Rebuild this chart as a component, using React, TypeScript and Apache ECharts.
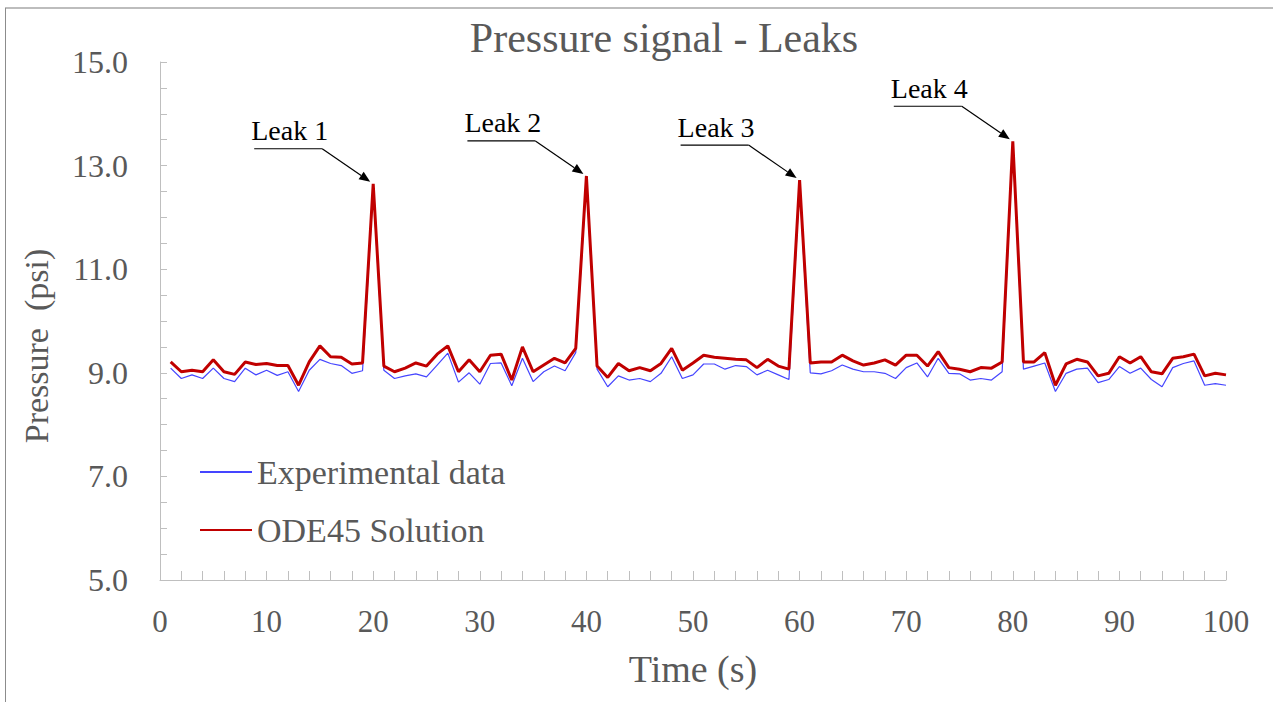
import React, { useEffect, useRef } from "react";
import * as echarts from "echarts";

const experimental: number[] = [
  9.09, 8.89, 8.96, 8.89, 9.09, 8.89, 8.83, 9.09, 8.96, 9.05, 8.95, 9.02, 8.64, 9.05, 9.26, 9.18, 9.14, 8.99, 9.04, 12.55,
  9.05, 8.89, 8.94, 8.98, 8.92, 9.15, 9.38, 8.82, 9.0, 8.78, 9.18, 9.19, 8.75, 9.28, 8.83, 9.02, 9.13, 9.04, 9.39, 12.7,
  9.07, 8.73, 8.94, 8.86, 8.89, 8.83, 8.99, 9.31, 8.89, 8.96, 9.17, 9.17, 9.07, 9.14, 9.12, 8.96, 9.05, 8.96, 8.87, 12.62,
  9.0, 8.98, 9.04, 9.15, 9.07, 9.02, 9.02, 8.99, 8.89, 9.1, 9.19, 8.92, 9.28, 8.99, 8.98, 8.86, 8.89, 8.86, 9.02, 13.4,
  9.07, 9.13, 9.19, 8.64, 8.99, 9.07, 9.09, 8.81, 8.87, 9.12, 8.99, 9.09, 8.87, 8.73, 9.1, 9.18, 9.23, 8.76, 8.79, 8.76,
];

const ode45: number[] = [
  9.21, 9.02, 9.05, 9.02, 9.25, 9.02, 8.97, 9.21, 9.16, 9.18, 9.14, 9.14, 8.76, 9.21, 9.52, 9.31, 9.3, 9.17, 9.19, 12.65,
  9.13, 9.02, 9.09, 9.19, 9.13, 9.36, 9.52, 9.02, 9.25, 9.02, 9.34, 9.36, 8.86, 9.5, 9.02, 9.15, 9.28, 9.19, 9.47, 12.8,
  9.13, 8.91, 9.18, 9.04, 9.1, 9.04, 9.18, 9.47, 9.05, 9.19, 9.34, 9.3, 9.28, 9.26, 9.25, 9.1, 9.26, 9.13, 9.07, 12.72,
  9.19, 9.21, 9.21, 9.34, 9.23, 9.15, 9.19, 9.25, 9.15, 9.34, 9.34, 9.13, 9.41, 9.1, 9.07, 9.02, 9.1, 9.09, 9.21, 13.47,
  9.21, 9.21, 9.39, 8.76, 9.17, 9.26, 9.21, 8.94, 8.99, 9.31, 9.19, 9.31, 9.02, 8.98, 9.28, 9.31, 9.36, 8.94, 8.99, 8.96,
];

// time stamps (s): one sample per second starting at 1 s
const times: number[] = experimental.map((_, i) => i + 1);

const leakNames: string[] = ["Leak 1", "Leak 2", "Leak 3", "Leak 4"];
const leakTimes: number[] = [20, 40, 60, 80];

const FONT = '"Liberation Serif", "Times New Roman", serif';
const GRAY = "#595959";
const AXIS = "#bfbfbf";

export default function App() {
  const ref = useRef<HTMLDivElement>(null);

  useEffect(() => {
    document.body.style.margin = "0";
    if (!ref.current) return;
    const chart = echarts.init(ref.current, undefined, { renderer: "svg" });

    const option: any = {
      animation: false,
      backgroundColor: "#ffffff",
      title: {
        text: "Pressure signal - Leaks",
        left: 659,
        top: 12,
        textAlign: "center",
        textStyle: { fontFamily: FONT, fontSize: 42, fontWeight: "normal", color: GRAY },
      },
      legend: {
        orient: "vertical",
        left: 194,
        top: 450,
        itemWidth: 52,
        itemHeight: 14,
        itemGap: 24,
        itemStyle: { opacity: 0 },
        textStyle: { fontFamily: FONT, fontSize: 34, color: GRAY, lineHeight: 34 },
        data: ["Experimental data", "ODE45 Solution"],
      },
      grid: { left: 160, right: 47, top: 62, bottom: 122, containLabel: false },
      xAxis: {
        type: "value",
        min: 0,
        max: 100,
        interval: 10,
        name: "Time (s)",
        nameLocation: "middle",
        nameGap: 70,
        nameTextStyle: { fontFamily: FONT, fontSize: 38, color: GRAY },
        axisLine: { show: true, lineStyle: { color: AXIS, width: 1 } },
        axisTick: { show: true, inside: true, length: 9, lineStyle: { color: AXIS } },
        minorTick: { show: true, splitNumber: 5, length: 9, lineStyle: { color: AXIS } },
        splitLine: { show: false },
        axisLabel: { fontFamily: FONT, fontSize: 31, color: GRAY, margin: 26 },
      },
      yAxis: {
        type: "value",
        min: 5,
        max: 15,
        interval: 2,
        axisLine: { show: true, lineStyle: { color: AXIS, width: 1 } },
        axisTick: { show: true, inside: true, length: 7, lineStyle: { color: AXIS } },
        minorTick: { show: true, splitNumber: 4, length: 7, lineStyle: { color: AXIS } },
        splitLine: { show: false },
        axisLabel: {
          fontFamily: FONT,
          fontSize: 32,
          color: GRAY,
          margin: 32,
          formatter: (v: number) => v.toFixed(1),
        },
      },
      series: [
        {
          name: "Experimental data",
          type: "line",
          symbol: "none",
          data: times.map((t, i) => [t, experimental[i]]),
          lineStyle: { color: "#4545ff", width: 1.2 },
          itemStyle: { color: "#4545ff" },
          z: 2,
        },
        {
          name: "ODE45 Solution",
          type: "line",
          symbol: "none",
          data: times.map((t, i) => [t, ode45[i]]),
          lineStyle: { color: "#c00000", width: 3 },
          itemStyle: { color: "#c00000" },
          z: 3,
        },
      ],
    };
    chart.setOption(option);

    const graphics: any[] = [
      { type: "line", shape: { x1: 5, y1: 8, x2: 1273, y2: 8 }, style: { stroke: "#bdbdbd", lineWidth: 2 }, silent: true },
      { type: "line", shape: { x1: 5.5, y1: 8, x2: 5.5, y2: 702 }, style: { stroke: "#8c8c8c", lineWidth: 1 }, silent: true },
      {
        type: "text",
        x: 36,
        y: 346,
        rotation: Math.PI / 2,
        style: {
          text: "Pressure  (psi)",
          fontFamily: FONT,
          fontSize: 34,
          fill: GRAY,
          textAlign: "center",
          textVerticalAlign: "middle",
          verticalAlign: "middle",
        },
        silent: true,
      },
    ];

    leakTimes.forEach((t, k) => {
      const idx = times.indexOf(t);
      const p = chart.convertToPixel({ gridIndex: 0 }, [t, ode45[idx]]) as number[];
      const tipX = p[0] - 3;
      const tipY = p[1] - 2;
      const ux1 = tipX - 116;
      const ux2 = tipX - 48;
      const uy = tipY - 33;
      const dx = tipX - ux2;
      const dy = tipY - uy;
      const len = Math.sqrt(dx * dx + dy * dy);
      const ux = dx / len;
      const uyv = dy / len;
      const headL = 11;
      const headW = 4.5;
      const bx = tipX - ux * headL;
      const by = tipY - uyv * headL;
      graphics.push(
        {
          type: "text",
          style: {
            text: leakNames[k],
            x: ux1 - 3,
            y: uy - 4,
            fontFamily: FONT,
            fontSize: 28,
            fill: "#000000",
            textAlign: "left",
            textVerticalAlign: "bottom",
            verticalAlign: "bottom",
          },
          z: 100,
        },
        { type: "line", shape: { x1: ux1, y1: uy, x2: ux2, y2: uy }, style: { stroke: "#000", lineWidth: 1.2 }, z: 100 },
        { type: "line", shape: { x1: ux2, y1: uy, x2: bx, y2: by }, style: { stroke: "#000", lineWidth: 1.2 }, z: 100 },
        {
          type: "polygon",
          shape: {
            points: [
              [tipX, tipY],
              [bx - uyv * headW, by + ux * headW],
              [bx + uyv * headW, by - ux * headW],
            ],
          },
          style: { fill: "#000" },
          z: 100,
        }
      );
    });

    chart.setOption({ graphic: graphics });

    return () => chart.dispose();
  }, []);

  return <div ref={ref} style={{ width: 1273, height: 702 }} />;
}
